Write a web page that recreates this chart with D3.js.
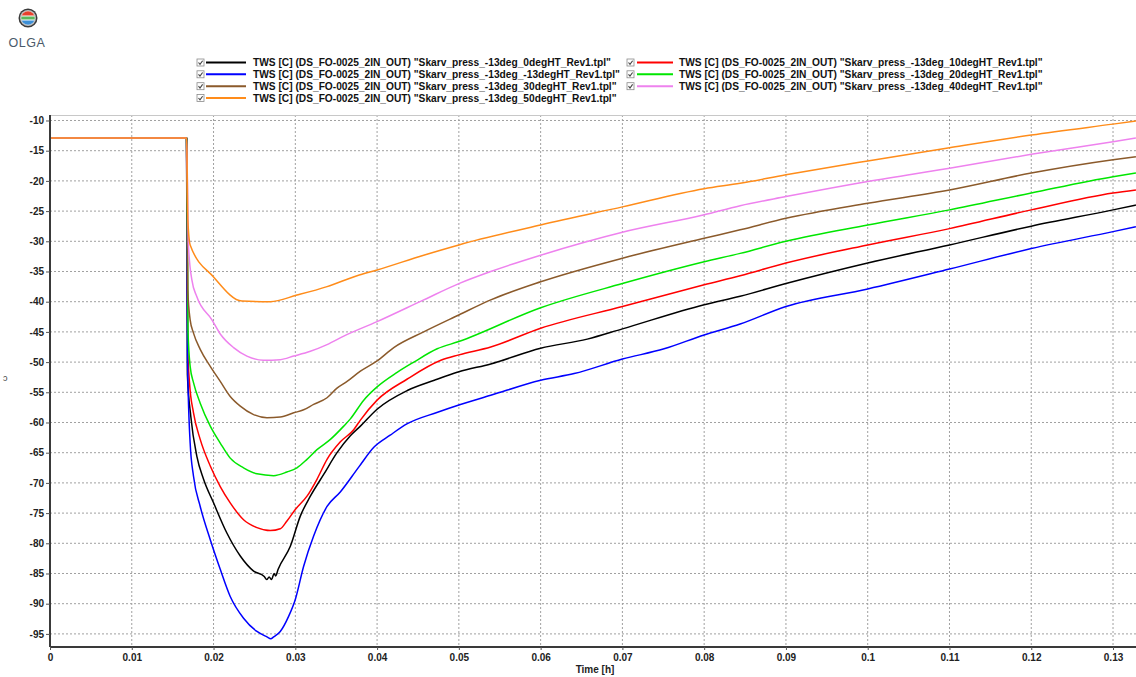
<!DOCTYPE html>
<html>
<head>
<meta charset="utf-8">
<script src="https://cdn.jsdelivr.net/npm/d3@7"></script>
<style>
  html, body { margin: 0; padding: 0; background: #fff; }
  svg { display: block; }
  text { font-family: "Liberation Sans", Arial, sans-serif; }
</style>
</head>
<body>
<svg id="chart" width="1136" height="677"></svg>
<script>
// ---------------- DATA ----------------
const xTicks = [0, 0.01, 0.02, 0.03, 0.04, 0.05, 0.06, 0.07, 0.08, 0.09, 0.1, 0.11, 0.12, 0.13];
const xTickLabels = ["0", "0.01", "0.02", "0.03", "0.04", "0.05", "0.06", "0.07", "0.08", "0.09", "0.1", "0.11", "0.12", "0.13"];
const yTicks = [-10, -15, -20, -25, -30, -35, -40, -45, -50, -55, -60, -65, -70, -75, -80, -85, -90, -95];
const xTitle = "Time [h]";

const seriesNames = [
  'TWS [C] (DS_FO-0025_2IN_OUT) "Skarv_press_-13deg_0degHT_Rev1.tpl"',
  'TWS [C] (DS_FO-0025_2IN_OUT) "Skarv_press_-13deg_10degHT_Rev1.tpl"',
  'TWS [C] (DS_FO-0025_2IN_OUT) "Skarv_press_-13deg_-13degHT_Rev1.tpl"',
  'TWS [C] (DS_FO-0025_2IN_OUT) "Skarv_press_-13deg_20degHT_Rev1.tpl"',
  'TWS [C] (DS_FO-0025_2IN_OUT) "Skarv_press_-13deg_30degHT_Rev1.tpl"',
  'TWS [C] (DS_FO-0025_2IN_OUT) "Skarv_press_-13deg_40degHT_Rev1.tpl"',
  'TWS [C] (DS_FO-0025_2IN_OUT) "Skarv_press_-13deg_50degHT_Rev1.tpl"'
];
const seriesColors = ["#000000", "#ff0000", "#0000ff", "#00e600", "#8b5a2b", "#ee82ee", "#ff8c1a"];

// 0degHT (black)
const t0 = [0, 0.0167, 0.0168, 0.01722, 0.01796, 0.01878, 0.02, 0.02163, 0.02327, 0.0249, 0.0262, 0.0265, 0.0268, 0.0271, 0.0274, 0.0276, 0.0279, 0.02939, 0.03061, 0.03184, 0.03347, 0.0351, 0.03673, 0.03796, 0.04, 0.0437, 0.047, 0.05, 0.0539, 0.06, 0.0657, 0.07, 0.08, 0.0844, 0.09, 0.1, 0.11, 0.12, 0.13, 0.1328];
const v0 = [-12.9, -12.9, -52, -59.0, -65.6, -69.4, -73.3, -78.3, -82.1, -84.6, -85.5, -86.0, -85.6, -86.0, -85.0, -85.4, -84.3, -80.5, -75.5, -72.2, -68.6, -65.0, -62.2, -60.6, -57.8, -54.7, -53.0, -51.6, -50.3, -47.7, -46.2, -44.5, -40.5, -39.1, -37.0, -33.6, -30.6, -27.5, -24.8, -24.0];

// 10degHT (red)
const t10 = [0, 0.0167, 0.01685, 0.01706, 0.01755, 0.01837, 0.0196, 0.02082, 0.02204, 0.02367, 0.02531, 0.02694, 0.02816, 0.02898, 0.03, 0.03143, 0.03265, 0.03388, 0.03551, 0.03714, 0.03796, 0.04, 0.0437, 0.0478, 0.05, 0.0539, 0.06, 0.07, 0.08, 0.0844, 0.09, 0.1, 0.11, 0.12, 0.13, 0.1328];
const v10 = [-12.9, -12.9, -48, -53.4, -58.4, -62.8, -67.2, -70.6, -73.3, -76.1, -77.4, -77.9, -77.6, -76.3, -74.4, -72.2, -69.4, -66.1, -63.2, -61.2, -59.6, -56.3, -52.8, -49.7, -48.8, -47.5, -44.4, -40.8, -37.2, -35.7, -33.6, -30.6, -27.9, -24.8, -22.0, -21.5];

// -13degHT (blue)
const tM13 = [0, 0.0167, 0.01682, 0.01714, 0.01755, 0.01837, 0.0196, 0.02082, 0.02204, 0.02367, 0.02531, 0.02653, 0.0270, 0.02735, 0.02816, 0.02918, 0.03, 0.03102, 0.03224, 0.03388, 0.0355, 0.0378, 0.0396, 0.0416, 0.0437, 0.0474, 0.05, 0.0539, 0.06, 0.0641, 0.07, 0.0751, 0.08, 0.0844, 0.09, 0.1, 0.11, 0.12, 0.13, 0.1328];
const vM13 = [-12.9, -12.9, -49.6, -63.4, -68.9, -73.9, -79.4, -84.3, -88.8, -92.4, -94.6, -95.5, -95.8, -95.5, -94.6, -92.1, -89.3, -83.8, -78.8, -73.9, -71.5, -67.3, -64.1, -62.1, -60.2, -58.3, -57.1, -55.5, -53.0, -51.9, -49.5, -47.8, -45.5, -43.7, -40.8, -37.9, -34.6, -31.2, -28.4, -27.6];

// 20degHT (green)
const t20 = [0, 0.0167, 0.01688, 0.01714, 0.01755, 0.01837, 0.0196, 0.02082, 0.02204, 0.02367, 0.02531, 0.02735, 0.02898, 0.0302, 0.03143, 0.03265, 0.03429, 0.03592, 0.03673, 0.03837, 0.04, 0.04245, 0.04449, 0.04735, 0.05, 0.06, 0.07, 0.08, 0.0844, 0.09, 0.1, 0.11, 0.12, 0.13, 0.1328];
const v20 = [-12.9, -12.9, -45, -50.7, -53.4, -56.8, -60.6, -63.4, -65.9, -67.5, -68.5, -68.8, -68.2, -67.5, -66.1, -64.5, -62.8, -60.6, -59.4, -56.3, -54.1, -51.7, -50.0, -47.8, -46.6, -41.0, -37.0, -33.4, -32.0, -30.0, -27.3, -24.8, -22.0, -19.3, -18.7];

// 30degHT (brown)
const t30 = [0, 0.0167, 0.01685, 0.01714, 0.01755, 0.01837, 0.0196, 0.02082, 0.02204, 0.02327, 0.0249, 0.02653, 0.02816, 0.0298, 0.03102, 0.03224, 0.03388, 0.0351, 0.03633, 0.03796, 0.04, 0.04204, 0.0457, 0.05, 0.0539, 0.06, 0.07, 0.08, 0.0844, 0.09, 0.1, 0.11, 0.12, 0.13, 0.1328];
const v30 = [-12.9, -12.9, -38, -43, -45.2, -47.9, -50.7, -53.2, -55.7, -57.3, -58.7, -59.2, -59.1, -58.4, -57.9, -57.0, -55.9, -54.3, -53.2, -51.5, -49.8, -47.6, -45.0, -42.2, -39.7, -36.7, -32.8, -29.5, -28.1, -26.2, -23.7, -21.5, -18.7, -16.5, -16.0];

// 40degHT (pink)
const t40 = [0, 0.0167, 0.01694, 0.01735, 0.01796, 0.0198, 0.0208, 0.02245, 0.02408, 0.02612, 0.02816, 0.0298, 0.03184, 0.03388, 0.03592, 0.04, 0.0457, 0.05, 0.0539, 0.06, 0.07, 0.08, 0.0844, 0.09, 0.1, 0.11, 0.12, 0.13, 0.1328];
const v40 = [-12.9, -12.9, -30.9, -36.4, -39.2, -43.0, -45.3, -47.6, -49.0, -49.7, -49.6, -49.0, -48.2, -47.1, -45.7, -43.3, -39.7, -37.0, -35.0, -32.3, -28.5, -25.6, -24.1, -22.6, -20.1, -17.9, -15.6, -13.5, -12.9];

// 50degHT (orange)
const t50 = [0, 0.01671, 0.01686, 0.01714, 0.02, 0.02347, 0.02694, 0.0302, 0.03388, 0.03755, 0.04, 0.0457, 0.05, 0.06, 0.07, 0.08, 0.0844, 0.09, 0.1, 0.11, 0.12, 0.13, 0.1328];
const v50 = [-12.9, -12.9, -26.5, -30.6, -35.9, -39.9, -40.0, -38.9, -37.5, -35.7, -34.75, -32.3, -30.6, -27.3, -24.3, -21.3, -20.4, -19.0, -16.7, -14.5, -12.4, -10.6, -10.1];

const seriesT = [t0, t10, tM13, t20, t30, t40, t50];
const seriesV = [v0, v10, vM13, v20, v30, v40, v50];

// ---------------- LAYOUT ----------------
const svg = d3.select("#chart");
const plot = { left: 50, right: 1136, top: 115, bottom: 647 };

const x = d3.scaleLinear().domain([0, 0.13281]).range([plot.left, plot.right]);
const y = d3.scaleLinear().domain([-97.17, -9.09]).range([plot.bottom, plot.top]);

// Logo
const logo = svg.append("g").attr("class", "logo");
const lg = svg.append("defs");
const cp = lg.append("clipPath").attr("id", "logoClip");
cp.append("circle").attr("cx", 28).attr("cy", 18).attr("r", 6.8);
logo.append("circle").attr("cx", 28).attr("cy", 18).attr("r", 9.5).attr("fill", "#3a3a3a");
logo.append("circle").attr("cx", 28).attr("cy", 18).attr("r", 8).attr("fill", "#bfbfbf");
const lgIn = logo.append("g").attr("clip-path", "url(#logoClip)");
lgIn.append("rect").attr("x", 20).attr("y", 10).attr("width", 16).attr("height", 16).attr("fill", "#ffffff");
lgIn.append("rect").attr("x", 20).attr("y", 10).attr("width", 16).attr("height", 5.5).attr("fill", "#e8412c");
lgIn.append("rect").attr("x", 20).attr("y", 16.5).attr("width", 16).attr("height", 3).attr("fill", "#5cb85c");
lgIn.append("rect").attr("x", 20).attr("y", 20.5).attr("width", 16).attr("height", 6).attr("fill", "#3d8fd6");
logo.append("text").attr("x", 27).attr("y", 47).attr("text-anchor", "middle")
  .attr("font-size", 12.5).attr("letter-spacing", 0.6).attr("fill", "#4a5a6a")
  .attr("font-family", "DejaVu Sans, sans-serif").text("OLGA");

// Legend
const legendCols = [
  { box: 197, l1: 206, l2: 246, tx: 253 },
  { box: 627, l1: 637, l2: 673, tx: 679 }
];
const legendRowY = [62.5, 74.3, 86.2, 98];
const leg = svg.append("g").attr("class", "legend");
seriesNames.forEach((name, i) => {
  const col = legendCols[i % 2];
  const ry = legendRowY[Math.floor(i / 2)];
  const g = leg.append("g");
  g.append("rect").attr("x", col.box).attr("y", ry - 3.5).attr("width", 7).attr("height", 7)
    .attr("fill", "#fff").attr("stroke", "#8a8a8a").attr("stroke-width", 0.8);
  g.append("path").attr("d", `M${col.box + 1.5},${ry} L${col.box + 3},${ry + 1.8} L${col.box + 5.6},${ry - 1.8}`)
    .attr("fill", "none").attr("stroke", "#444").attr("stroke-width", 1.1);
  g.append("line").attr("x1", col.l1).attr("x2", col.l2).attr("y1", ry).attr("y2", ry)
    .attr("stroke", seriesColors[i]).attr("stroke-width", 2);
  g.append("text").attr("x", col.tx).attr("y", ry + 3.5)
    .attr("font-size", 10.2).attr("font-weight", "bold").attr("fill", "#111").text(name);
});

// Grid
const grid = svg.append("g").attr("class", "grid");
grid.selectAll("line.gx").data(xTicks.filter(d => d > 0)).enter().append("line")
  .attr("x1", d => x(d)).attr("x2", d => x(d)).attr("y1", plot.top).attr("y2", plot.bottom)
  .attr("stroke", "#a0a0a0").attr("stroke-width", 1).attr("stroke-dasharray", "2,2");
grid.selectAll("line.gy").data(yTicks).enter().append("line")
  .attr("x1", plot.left).attr("x2", plot.right).attr("y1", d => y(d)).attr("y2", d => y(d))
  .attr("stroke", "#a0a0a0").attr("stroke-width", 1).attr("stroke-dasharray", "2,2");
// top border
svg.append("line").attr("x1", plot.left).attr("x2", plot.right).attr("y1", plot.top + 0.5).attr("y2", plot.top + 0.5)
  .attr("stroke", "#c8c8c8").attr("stroke-width", 1);

// Series
svg.append("defs").append("clipPath").attr("id", "plotClip")
  .append("rect").attr("x", plot.left).attr("y", plot.top).attr("width", plot.right - plot.left).attr("height", plot.bottom - plot.top);
const line = d3.line().x(d => x(d[0])).y(d => y(d[1])).curve(d3.curveMonotoneX);
const series = svg.append("g").attr("clip-path", "url(#plotClip)");
seriesT.forEach((ts, i) => {
  const pts = ts.map((t, k) => [t, seriesV[i][k]]);
  series.append("path").datum(pts).attr("d", line)
    .attr("fill", "none").attr("stroke", seriesColors[i]).attr("stroke-width", 1.5)
    .attr("stroke-linejoin", "round");
});

// Axes
const xAxis = d3.axisBottom(x).tickValues(xTicks).tickFormat((d, i) => xTickLabels[i]).tickSize(3).tickPadding(4);
const yAxis = d3.axisLeft(y).tickValues(yTicks).tickFormat(d => String(d)).tickSize(4).tickPadding(2);

const gx = svg.append("g").attr("transform", `translate(0,${plot.bottom})`).call(xAxis);
const gy = svg.append("g").attr("transform", `translate(${plot.left},0)`).call(yAxis);
[gx, gy].forEach(g => {
  g.select(".domain").attr("stroke", "#3a3a3a").attr("stroke-width", 2);
  g.selectAll(".tick line").attr("stroke", "#555");
  g.selectAll(".tick text").attr("font-size", 10).attr("font-weight", "bold").attr("fill", "#222")
    .attr("font-family", "Liberation Sans, Arial, sans-serif");
});
gx.select(".domain").attr("d", `M${plot.left},0H${plot.right}`);
gy.select(".domain").attr("d", `M0,${plot.top}V${plot.bottom}`);

// Axis titles
svg.append("text").attr("x", 595).attr("y", 673).attr("text-anchor", "middle")
  .attr("font-size", 10).attr("font-weight", "bold").attr("fill", "#222").text(xTitle);
svg.append("text").attr("x", 3).attr("y", 381).attr("font-size", 9).attr("fill", "#444").text("ɔ");
</script>
</body>
</html>
